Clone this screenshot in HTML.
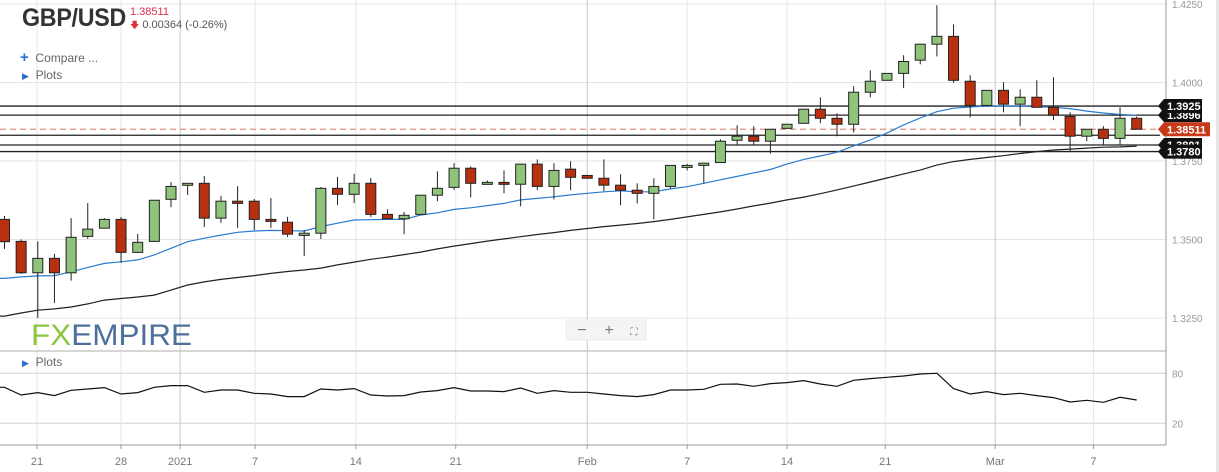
<!DOCTYPE html>
<html><head><meta charset="utf-8"><style>
html,body{margin:0;padding:0;background:#fff;width:1219px;height:472px;overflow:hidden;font-family:"Liberation Sans",sans-serif;}
svg{position:absolute;left:0;top:0}
</style></head><body>
<svg id="chart" width="1219" height="472"></svg>
<script>
const opens=[1.3564,1.3494,1.3394,1.3440,1.3394,1.3510,1.3536,1.3564,1.3459,1.3494,1.3628,1.3673,1.3679,1.3568,1.3622,1.3622,1.3564,1.3555,1.3513,1.3520,1.3663,1.3644,1.3679,1.3580,1.3566,1.3580,1.3641,1.3666,1.3727,1.3676,1.3682,1.3676,1.3740,1.3669,1.3724,1.3704,1.3695,1.3673,1.3657,1.3647,1.3669,1.3730,1.3736,1.3745,1.3816,1.3829,1.3813,1.3854,1.3870,1.3915,1.3886,1.3867,1.3969,1.4007,1.4029,1.4071,1.4122,1.4147,1.4004,1.3927,1.3975,1.3931,1.3953,1.3921,1.3892,1.3829,1.3851,1.3822,1.3886];
const closes=[1.3493,1.3394,1.3440,1.3394,1.3507,1.3533,1.3564,1.3459,1.3491,1.3625,1.3669,1.3679,1.3568,1.3622,1.3615,1.3564,1.3558,1.3517,1.3520,1.3663,1.3644,1.3679,1.3580,1.3566,1.3577,1.3641,1.3663,1.3727,1.3679,1.3682,1.3676,1.3740,1.3669,1.3720,1.3698,1.3695,1.3673,1.3657,1.3647,1.3669,1.3736,1.3736,1.3743,1.3813,1.3829,1.3813,1.3851,1.3867,1.3915,1.3886,1.3867,1.3969,1.4004,1.4029,1.4067,1.4122,1.4147,1.4007,1.3927,1.3975,1.3931,1.3953,1.3921,1.3896,1.3829,1.3851,1.3822,1.3886,1.3851];
const highs=[1.3575,1.3500,1.3494,1.3454,1.3568,1.3616,1.3568,1.3572,1.3518,1.3626,1.3683,1.3680,1.3702,1.3639,1.3670,1.3629,1.3632,1.3572,1.3530,1.3667,1.3699,1.3709,1.3696,1.3596,1.3588,1.3642,1.3717,1.3743,1.3733,1.3688,1.3720,1.3741,1.3755,1.3743,1.3749,1.3705,1.3755,1.3708,1.3679,1.3695,1.3737,1.3741,1.3744,1.3819,1.3864,1.3861,1.3852,1.3868,1.3916,1.3953,1.3902,1.3988,1.4039,1.4030,1.4087,1.4123,1.4246,1.4185,1.4023,1.3976,1.4001,1.3978,1.4007,1.4017,1.3905,1.3852,1.3861,1.3921,1.3892];
const lows=[1.3470,1.3390,1.3250,1.3298,1.3369,1.3502,1.3536,1.3426,1.3457,1.3494,1.3603,1.3642,1.3540,1.3553,1.3537,1.3530,1.3537,1.3508,1.3447,1.3502,1.3610,1.3616,1.3572,1.3565,1.3517,1.3580,1.3622,1.3658,1.3634,1.3676,1.3647,1.3606,1.3657,1.3628,1.3657,1.3694,1.3654,1.3609,1.3615,1.3564,1.3663,1.3720,1.3679,1.3744,1.3803,1.3800,1.3774,1.3854,1.3870,1.3870,1.3829,1.3841,1.3953,1.4006,1.3982,1.4058,1.4083,1.3999,1.3889,1.3927,1.3905,1.3861,1.3921,1.3880,1.3778,1.3813,1.3800,1.3800,1.3851];
const ma20=[1.3376,1.3381,1.3384,1.3385,1.3397,1.3411,1.3424,1.3429,1.3435,1.3451,1.3472,1.3493,1.3504,1.3514,1.3523,1.3527,1.3529,1.3528,1.3527,1.3541,1.3552,1.3562,1.3563,1.3564,1.3564,1.3578,1.3585,1.3596,1.3601,1.3608,1.3615,1.3626,1.3631,1.3636,1.3642,1.3647,1.3652,1.3655,1.3652,1.3652,1.3661,1.3668,1.3679,1.3690,1.3701,1.3712,1.3723,1.3740,1.3755,1.3766,1.3778,1.3798,1.3817,1.3839,1.3865,1.3887,1.3907,1.3918,1.3922,1.3925,1.3925,1.3925,1.3923,1.3921,1.3917,1.3909,1.3903,1.3898,1.3896];
const ma50=[1.3256,1.3266,1.3275,1.3279,1.3285,1.3295,1.3307,1.3312,1.3317,1.3323,1.3339,1.3355,1.3365,1.3373,1.3379,1.3385,1.3392,1.3398,1.3403,1.3409,1.3419,1.3428,1.3437,1.3444,1.3452,1.3460,1.3470,1.3479,1.3487,1.3495,1.3502,1.3509,1.3516,1.3522,1.3529,1.3535,1.3541,1.3546,1.3551,1.3557,1.3564,1.3572,1.3580,1.3588,1.3597,1.3607,1.3616,1.3626,1.3635,1.3646,1.3658,1.3670,1.3683,1.3696,1.3709,1.3721,1.3737,1.3748,1.3755,1.3761,1.3767,1.3774,1.3780,1.3785,1.3788,1.3791,1.3794,1.3795,1.3797];
const osc=[63.2,54,56.8,53.2,59.6,61.2,62.8,55.2,56.8,63.2,65.2,65.2,57.2,60,60,56,55.2,52,52,61.2,60,61.6,54,52.8,53.2,57.6,59.2,62.8,58.8,58.8,58,62.4,56,59.2,57.2,57.2,55.2,53.2,52,54.4,60,60,60.8,66.8,67.2,64.4,67.6,68.8,71.2,67.2,64.4,71.6,73.6,75.2,76.8,79.2,80,61.6,55.2,58,54.4,56,53.2,50.8,45.6,47.6,45.2,51.2,48];
const priceTicks=[1.4250,1.4000,1.3750,1.3500,1.3250];
const oscTicks=[80,20];
const dateTickPos=[1.95,7,10.55,15.05,21.1,27.1,35.0,41,47,52.9,59.5,65.4];
const dateTickLabels=["21","28","2021","7","14","21","Feb","7","14","21","Mar","7"];
const levels=[1.3925,1.3896,1.3832,1.3801,1.3780];
const levelLabels=["1.3925","1.3896","","1.3801","1.3780"];
const lastPrice=1.38511;

const NS="http://www.w3.org/2000/svg";
const svg=document.getElementById('chart');
const X=i=>4.5+16.65*i;
const Y=p=>4+(1.425-p)*3140;
const YO=v=>373.3+(80-v)*(50/60);
const RIGHT=1166;
function mk(tag,attrs,parent){const e=document.createElementNS(NS,tag);for(const k in attrs)e.setAttribute(k,attrs[k]);(parent||svg).appendChild(e);return e;}

let e=mk('rect',{x:1216,y:0,width:3,height:472,fill:'#e6e6e6'});



const grid=mk('g',{});


priceTicks.forEach(p=>{mk('line',{x1:0,x2:RIGHT,y1:Y(p),y2:Y(p),stroke:'#e4e4e4','stroke-width':1},grid);});
oscTicks.forEach(v=>{mk('line',{x1:0,x2:RIGHT,y1:YO(v),y2:YO(v),stroke:'#d0d0d0','stroke-width':1},grid);});
dateTickPos.forEach((d,k)=>{const lab=dateTickLabels[k];const dark=(lab==='2021'||lab==='Feb'||lab==='Mar');
 mk('line',{x1:X(d),x2:X(d),y1:0,y2:445,stroke:dark?'#c8c8c8':'#e6e6e6','stroke-width':1},grid);});
mk('line',{x1:0,x2:RIGHT,y1:351,y2:351,stroke:'#c8c8c8','stroke-width':1.5},grid);

mk('line',{x1:RIGHT,x2:RIGHT,y1:0,y2:445,stroke:'#999','stroke-width':1});
mk('line',{x1:0,x2:RIGHT,y1:445,y2:445,stroke:'#999','stroke-width':1});
priceTicks.forEach(p=>{const t=mk('text',{x:1172,y:Y(p)+4,'font-size':10,fill:'#999'});t.textContent=p.toFixed(4);
 
 });
oscTicks.forEach(v=>{const t=mk('text',{x:1172,y:YO(v)+4,'font-size':10,fill:'#999'});t.textContent=v;
 
 });
dateTickPos.forEach((d,k)=>{mk('line',{x1:X(d),x2:X(d),y1:445,y2:449,stroke:'#999'});
 const t=mk('text',{x:X(d),y:465,'font-size':11,fill:'#777','text-anchor':'middle'});t.textContent=dateTickLabels[k];
 
 });

const logo=mk('text',{x:31,y:345,'font-size':30,'font-family':'Liberation Sans, sans-serif',textLength:161,lengthAdjust:'spacingAndGlyphs'});


const t1=mk('tspan',{fill:'#8cc63e'},logo);t1.textContent='FX';
const t2=mk('tspan',{fill:'#4d6f9c'},logo);t2.textContent='EMPIRE';

const zc=mk('g',{});


mk('rect',{x:566,y:320,width:80,height:20,fill:'#f4f4f4',stroke:'#ececec'},zc);
[['−',582,'zoom-out-button'],['+',609,'zoom-in-button'],['⛶',634,'fullscreen-button']].forEach(a=>{const t=mk('text',{x:a[1],y:335,'font-size':a[0]==='⛶'?10:16,fill:'#777','text-anchor':'middle'},zc);t.textContent=a[0];
 
 });

levels.forEach(l=>{e=mk('line',{x1:0,x2:1160,y1:Y(l),y2:Y(l),stroke:'#222','stroke-width':1.3});
 
 });
e=mk('line',{x1:0,x2:1160,y1:Y(lastPrice),y2:Y(lastPrice),stroke:'#e09080','stroke-width':1.2,'stroke-dasharray':'6,4'});



function pathOf(arr,yf){return arr.map((v,i)=>(i?'L':'M')+X(i).toFixed(1)+','+yf(v).toFixed(1)).join('');}
e=mk('path',{d:'M0,'+Y(ma50[0]).toFixed(1)+pathOf(ma50,Y).replace('M','L'),fill:'none',stroke:'#222','stroke-width':1.2});


e=mk('path',{d:'M0,'+Y(ma20[0]).toFixed(1)+pathOf(ma20,Y).replace('M','L'),fill:'none',stroke:'#2a7bd0','stroke-width':1.2});



const cg=mk('g',{});


opens.forEach((o,i)=>{const c=closes[i];const up=c>=o;const x=X(i);
 const w=mk('line',{x1:x,x2:x,y1:Y(highs[i]),y2:Y(lows[i]),stroke:'#222','stroke-width':1},cg);
 
 
 const top=Y(Math.max(o,c)),bot=Y(Math.min(o,c));
 const b=mk('rect',{x:x-5,y:top,width:10,height:Math.max(bot-top,2),fill:up?'#8fc27a':'#b8300f',stroke:'#222','stroke-width':1},cg);
 
 });

e=mk('path',{d:'M0,'+YO(osc[0]).toFixed(1)+pathOf(osc,YO).replace('M','L'),fill:'none',stroke:'#111','stroke-width':1.2});



function tag(y,txt,fill,w,name){const g=mk('g',{});
 
 
 mk('path',{d:`M1158,${y} L1164,${y-7} L${1164+w},${y-7} L${1164+w},${y+7} L1164,${y+7} Z`,fill:fill},g);
 const t=mk('text',{x:1167,y:y+4,'font-size':11,'font-weight':'bold',fill:'#fff'},g);t.textContent=txt;}
[1,3].forEach(k=>tag(Y(levels[k]),levelLabels[k],'#111',38,'level-label'));
tag(Y(levels[0]),levelLabels[0],'#111',38,'level-label');
tag(Y(levels[4]),levelLabels[4],'#111',38,'level-label');
tag(Y(lastPrice),lastPrice.toFixed(5),'#c8391a',46,'last-price-label');
</script>

<div style="position:absolute;left:22px;top:4px;">
  <div style="position:absolute;left:0;top:0;font-size:25px;font-weight:bold;color:#333;transform:scaleX(0.93);transform-origin:left top;white-space:nowrap;letter-spacing:-0.3px;">GBP/USD</div>
  <div style="position:absolute;left:108px;top:2px;font-size:11px;color:#e0304a;">1.38511</div>
  <div style="position:absolute;left:108px;top:14px;font-size:11px;color:#555;white-space:nowrap;"><span style="color:#e0303a;font-size:9px;">🡇</span> 0.00364 (-0.26%)</div>
</div>
<div style="position:absolute;left:20px;top:49px;font-size:12px;color:#666;white-space:nowrap;"><span style="color:#2b6ed2;font-weight:bold;font-size:15px;">+</span>&nbsp; Compare ...</div>
<div style="position:absolute;left:22px;top:68px;font-size:12px;color:#666;"><span style="color:#2b6ed2;font-size:9px;">▶</span>&nbsp; Plots</div>
<div style="position:absolute;left:22px;top:355px;font-size:12px;color:#666;"><span style="color:#2b6ed2;font-size:9px;">▶</span>&nbsp; Plots</div>
</body></html>
